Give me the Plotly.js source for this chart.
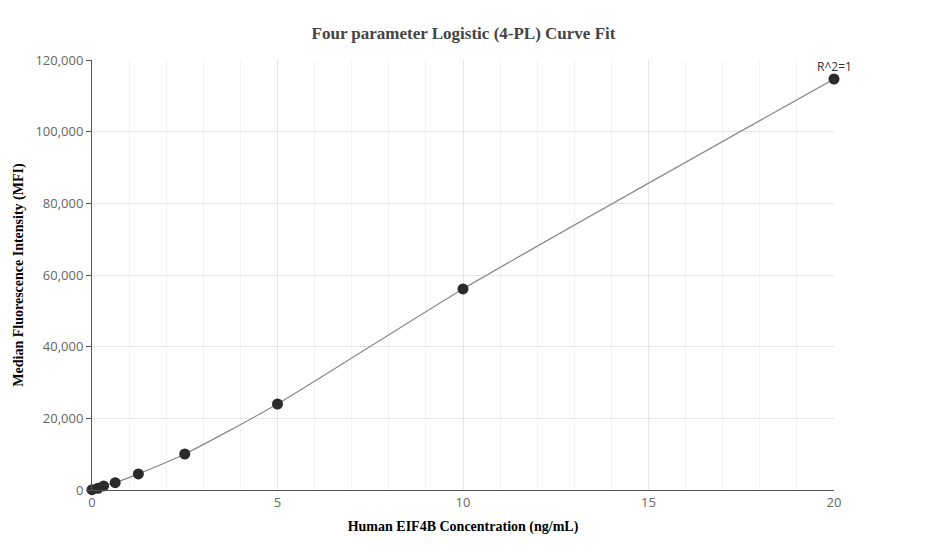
<!DOCTYPE html>
<html>
<head>
<meta charset="utf-8">
<script src="https://cdn.plot.ly/plotly-3.0.1.min.js"></script>
<style>html,body{margin:0;padding:0;background:#fff;}#chart{width:927px;height:560px;}</style>
</head>
<body>
<div id="chart"></div>
<script>
var concentration = [0, 0.156, 0.3125, 0.625, 1.25, 2.5, 5, 10, 20];
var mfi = [100, 480, 1150, 2050, 4500, 10050, 24000, 56100, 114700];
var xTicks = [0, 5, 10, 15, 20];
var yTicks = [0, 20000, 40000, 60000, 80000, 100000, 120000];
var annotationText = "R^2=1";

var curve = {
  x: concentration, y: mfi, mode: 'lines', type: 'scatter',
  line: {color: '#888888', width: 1.2, shape: 'spline', smoothing: 0.6},
  hoverinfo: 'skip', showlegend: false, cliponaxis: false
};
var points = {
  x: concentration, y: mfi, mode: 'markers', type: 'scatter',
  marker: {color: '#2b2b2b', size: 11},
  showlegend: false, cliponaxis: false
};
var layout = {
  width: 927, height: 560,
  margin: {l: 92, r: 93, t: 60, b: 70},
  paper_bgcolor: '#ffffff', plot_bgcolor: '#ffffff',
  title: {text: 'Four parameter Logistic (4-PL) Curve Fit', x: 0.5, xanchor: 'center', y: 0.952,
    font: {family: 'Liberation Serif, Times New Roman, serif', size: 17, color: '#444444', weight: 'bold'}},
  xaxis: {
    range: [0, 20], tickvals: xTicks, ticktext: xTicks.map(String),
    showline: true, linecolor: '#555555', linewidth: 1,
    showgrid: true, gridcolor: '#e6e6e6', zeroline: false,
    ticks: '', tickfont: {family: 'Open Sans, sans-serif', size: 13, color: '#666666'},
    minor: {dtick: 1, showgrid: true, gridcolor: '#f3f3f3'},
    title: {text: 'Human EIF4B Concentration (ng/mL)', standoff: 11,
      font: {family: 'Liberation Serif, Times New Roman, serif', size: 14, color: '#000000', weight: 'bold'}}
  },
  yaxis: {
    range: [0, 120000], tickvals: yTicks, tickformat: ',d',
    showline: true, linecolor: '#555555', linewidth: 1,
    showgrid: true, gridcolor: '#e6e6e6', zeroline: false,
    ticks: 'outside', ticklen: 5, tickcolor: '#555555',
    tickfont: {family: 'Open Sans, sans-serif', size: 13, color: '#666666'},
    title: {text: 'Median Fluorescence Intensity (MFI)', standoff: 8,
      font: {family: 'Liberation Serif, Times New Roman, serif', size: 14, color: '#000000', weight: 'bold'}}
  },
  annotations: [{
    x: concentration[concentration.length - 1], y: mfi[mfi.length - 1],
    xref: 'x', yref: 'y', text: annotationText, showarrow: false,
    yshift: 12, font: {family: 'Open Sans, sans-serif', size: 12, color: '#333333'}
  }]
};
Plotly.newPlot('chart', [curve, points], layout, {displayModeBar: false, staticPlot: true});
</script>
</body>
</html>
